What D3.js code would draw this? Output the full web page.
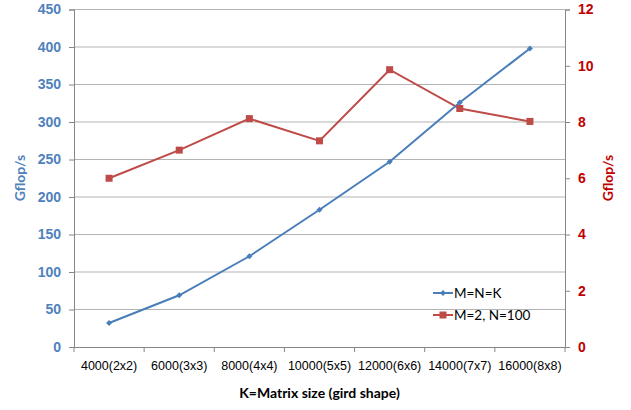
<!DOCTYPE html>
<html>
<head>
<meta charset="utf-8">
<script src="https://cdn.jsdelivr.net/npm/d3@7"></script>
<style>
  html, body { margin: 0; padding: 0; background: #fff; }
  svg { display: block; font-family: Lato, "Open Sans", sans-serif; }
</style>
</head>
<body>
<svg id="chart" width="631" height="410"></svg>
<script>
// Matrix sizes (grid shape) along the x axis
const categories = ["4000(2x2)", "6000(3x3)", "8000(4x4)", "10000(5x5)", "12000(6x6)", "14000(7x7)", "16000(8x8)"];
// Left axis series: M=N=K
const squareGflops = [32, 69, 121, 183, 247, 326, 398];
// Right axis series: M=2, N=100
const thinGflops = [6.0, 7.0, 8.12, 7.33, 9.86, 8.48, 8.02];
const leftTicks = [0, 50, 100, 150, 200, 250, 300, 350, 400, 450];
const rightTicks = [0, 2, 4, 6, 8, 10, 12];
const seriesNames = ["M=N=K", "M=2, N=100"];

const blue = "#4a7ebb", red = "#be4b48";
const svg = d3.select("#chart");
const plot = { left: 74, right: 565, top: 9.5, bottom: 347 };

const x = d3.scaleBand().domain(categories).range([plot.left, plot.right]);
const yL = d3.scaleLinear().domain([0, 450]).range([plot.bottom, plot.top]);
const yR = d3.scaleLinear().domain([0, 12]).range([plot.bottom, plot.top]);
const cx = d => x(d) + x.bandwidth() / 2;

// horizontal gridlines
svg.append("g").selectAll("line").data(leftTicks.slice(1)).join("line")
  .attr("x1", plot.left).attr("x2", plot.right)
  .attr("y1", d => yL(d)).attr("y2", d => yL(d))
  .attr("stroke", "#b3b3b3").attr("stroke-width", 1);

// left axis
const gL = svg.append("g").attr("transform", `translate(${plot.left},0)`)
  .call(d3.axisLeft(yL).tickValues(leftTicks).tickSize(5).tickPadding(8));
gL.select(".domain").attr("stroke", "#868686");
gL.selectAll(".tick line").attr("stroke", "#868686");
gL.selectAll(".tick text").attr("fill", "#4f81bd").attr("font-weight", "bold").attr("font-size", 14);

// right axis
const gR = svg.append("g").attr("transform", `translate(${plot.right},0)`)
  .call(d3.axisRight(yR).tickValues(rightTicks).tickSize(5).tickPadding(8));
gR.select(".domain").attr("stroke", "#868686");
gR.selectAll(".tick line").attr("stroke", "#868686");
gR.selectAll(".tick text").attr("fill", "#c00000").attr("font-weight", "bold").attr("font-size", 14);

// bottom axis with ticks at category boundaries
const gB = svg.append("g").attr("transform", `translate(0,${plot.bottom})`)
  .call(d3.axisBottom(x).tickSize(0).tickPadding(14));
gB.select(".domain").attr("stroke", "#868686");
gB.selectAll(".tick text").attr("fill", "#000").attr("font-size", 12.5);
gB.append("g").selectAll("line").data(categories.concat([null])).join("line")
  .attr("x1", (d, i) => plot.left + i * x.step()).attr("x2", (d, i) => plot.left + i * x.step())
  .attr("y1", 0).attr("y2", 5).attr("stroke", "#868686");

// axis titles
svg.append("text").attr("transform", `translate(25,178) rotate(-90)`)
  .attr("text-anchor", "middle").attr("font-weight", "bold").attr("font-size", 14)
  .attr("fill", "#4f81bd").text("Gflop/s");
svg.append("text").attr("transform", `translate(613,178) rotate(-90)`)
  .attr("text-anchor", "middle").attr("font-weight", "bold").attr("font-size", 14)
  .attr("fill", "#c00000").text("Gflop/s");
svg.append("text").attr("x", (plot.left + plot.right) / 2).attr("y", 398)
  .attr("text-anchor", "middle").attr("font-weight", "bold").attr("font-size", 14)
  .attr("fill", "#000").text("K=Matrix size (gird shape)");

// series lines
const lineL = d3.line().x((d, i) => cx(categories[i])).y(d => yL(d));
const lineR = d3.line().x((d, i) => cx(categories[i])).y(d => yR(d));
svg.append("path").datum(thinGflops).attr("d", lineR)
  .attr("fill", "none").attr("stroke", red).attr("stroke-width", 2);
svg.append("path").datum(squareGflops).attr("d", lineL)
  .attr("fill", "none").attr("stroke", blue).attr("stroke-width", 2);

// markers: small diamonds (rotated squares) and squares
const diamond = d3.symbol().type(d3.symbolSquare).size(18);
svg.append("g").selectAll("path").data(squareGflops).join("path")
  .attr("d", diamond)
  .attr("transform", (d, i) => `translate(${cx(categories[i])},${yL(d)}) rotate(45)`)
  .attr("fill", blue);
svg.append("g").selectAll("rect").data(thinGflops).join("rect")
  .attr("x", (d, i) => cx(categories[i]) - 3.5).attr("y", d => yR(d) - 3.5)
  .attr("width", 7).attr("height", 7).attr("fill", red);

// legend
const legend = svg.append("g");
const legY = [293, 315];
const legColor = [blue, red];
seriesNames.forEach((name, i) => {
  legend.append("line").attr("x1", 433).attr("x2", 453).attr("y1", legY[i]).attr("y2", legY[i])
    .attr("stroke", legColor[i]).attr("stroke-width", 2);
  if (i === 0) {
    legend.append("path").attr("d", diamond).attr("transform", `translate(443,${legY[i]}) rotate(45)`).attr("fill", blue);
  } else {
    legend.append("rect").attr("x", 439.5).attr("y", legY[i] - 3.5).attr("width", 7).attr("height", 7).attr("fill", red);
  }
  legend.append("text").attr("x", 454).attr("y", legY[i]).attr("dy", "0.35em")
    .attr("font-size", 13.5).attr("fill", "#000").text(name);
});
</script>
</body>
</html>
